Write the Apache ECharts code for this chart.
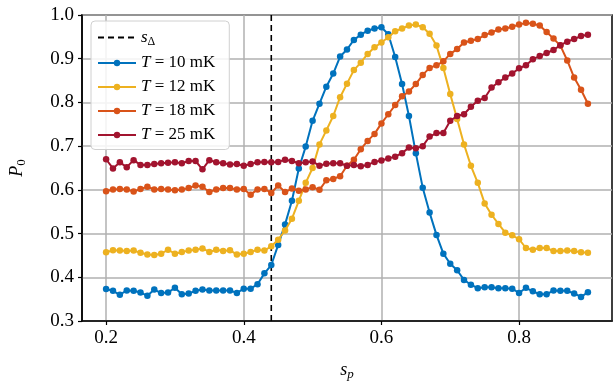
<!DOCTYPE html>
<html>
<head>
<meta charset="utf-8">
<script src="https://cdn.jsdelivr.net/npm/echarts@6/dist/echarts.min.js"></script>
<style>
  html, body { margin: 0; padding: 0; background: #fff; }
  #chart { width: 616px; height: 386px; }
</style>
</head>
<body>
<div id="chart"></div>
<script>
// s_p values (x)
var sp = [0.20, 0.21, 0.22, 0.23, 0.24, 0.25, 0.26, 0.27, 0.28, 0.29,
          0.30, 0.31, 0.32, 0.33, 0.34, 0.35, 0.36, 0.37, 0.38, 0.39,
          0.40, 0.41, 0.42, 0.43, 0.44, 0.45, 0.46, 0.47, 0.48, 0.49,
          0.50, 0.51, 0.52, 0.53, 0.54, 0.55, 0.56, 0.57, 0.58, 0.59,
          0.60, 0.61, 0.62, 0.63, 0.64, 0.65, 0.66, 0.67, 0.68, 0.69,
          0.70, 0.71, 0.72, 0.73, 0.74, 0.75, 0.76, 0.77, 0.78, 0.79,
          0.80, 0.81, 0.82, 0.83, 0.84, 0.85, 0.86, 0.87, 0.88, 0.89, 0.90];

var xTicks = [0.2, 0.4, 0.6, 0.8];

var sDelta = 0.44;

// P_0 for each temperature
var p10 = [0.373, 0.369, 0.360, 0.370, 0.369, 0.365, 0.358, 0.372, 0.364, 0.365,
           0.376, 0.361, 0.363, 0.369, 0.372, 0.370, 0.370, 0.370, 0.370, 0.364,
           0.374, 0.374, 0.384, 0.409, 0.428, 0.474, 0.521, 0.575, 0.649, 0.699,
           0.758, 0.797, 0.836, 0.866, 0.905, 0.921, 0.943, 0.955, 0.964, 0.969,
           0.972, 0.956, 0.904, 0.842, 0.769, 0.684, 0.605, 0.548, 0.497, 0.454,
           0.431, 0.416, 0.394, 0.383, 0.375, 0.377, 0.377, 0.375, 0.375, 0.374,
           0.364, 0.376, 0.368, 0.361, 0.361, 0.370, 0.369, 0.369, 0.363, 0.355, 0.366];

var p12 = [0.457, 0.462, 0.461, 0.460, 0.461, 0.456, 0.452, 0.451, 0.454, 0.463,
           0.454, 0.458, 0.461, 0.463, 0.466, 0.458, 0.463, 0.460, 0.462, 0.452,
           0.454, 0.458, 0.463, 0.461, 0.471, 0.486, 0.507, 0.534, 0.575, 0.616,
           0.650, 0.704, 0.736, 0.769, 0.812, 0.843, 0.874, 0.891, 0.911, 0.926,
           0.937, 0.949, 0.963, 0.969, 0.976, 0.978, 0.972, 0.957, 0.930, 0.879,
           0.819, 0.762, 0.704, 0.655, 0.616, 0.569, 0.543, 0.522, 0.502, 0.496,
           0.487, 0.467, 0.463, 0.467, 0.467, 0.460, 0.460, 0.461, 0.460, 0.457, 0.456];

var p18 = [0.597, 0.601, 0.602, 0.601, 0.596, 0.602, 0.607, 0.601, 0.602, 0.601,
           0.599, 0.601, 0.604, 0.610, 0.607, 0.595, 0.601, 0.604, 0.604, 0.601,
           0.602, 0.589, 0.601, 0.602, 0.593, 0.610, 0.595, 0.603, 0.598, 0.601,
           0.606, 0.600, 0.622, 0.625, 0.631, 0.655, 0.669, 0.693, 0.712, 0.728,
           0.752, 0.773, 0.794, 0.814, 0.825, 0.842, 0.863, 0.879, 0.885, 0.894,
           0.911, 0.922, 0.937, 0.941, 0.945, 0.954, 0.960, 0.967, 0.969, 0.973,
           0.978, 0.982, 0.980, 0.976, 0.961, 0.946, 0.930, 0.896, 0.857, 0.829, 0.797];

var p25 = [0.670, 0.649, 0.663, 0.652, 0.668, 0.657, 0.657, 0.659, 0.661, 0.662,
           0.663, 0.661, 0.666, 0.666, 0.647, 0.668, 0.663, 0.661, 0.658, 0.659,
           0.655, 0.659, 0.663, 0.664, 0.663, 0.664, 0.669, 0.666, 0.661, 0.663,
           0.665, 0.655, 0.660, 0.661, 0.661, 0.655, 0.657, 0.654, 0.657, 0.664,
           0.667, 0.672, 0.676, 0.684, 0.697, 0.695, 0.700, 0.722, 0.730, 0.730,
           0.758, 0.769, 0.773, 0.790, 0.804, 0.810, 0.834, 0.846, 0.857, 0.866,
           0.878, 0.885, 0.899, 0.906, 0.913, 0.920, 0.931, 0.939, 0.945, 0.952, 0.955];

var tempNames = ['T10', 'T12', 'T18', 'T25'];
var tempLabels = ['10', '12', '18', '25'];
var tempColors = ['#0072BD', '#EDB120', '#D95319', '#A2142F'];
var tempData = [p10, p12, p18, p25];

var serif = 'Liberation Serif';
var yLo = 0.3, yHi = 1.0;

function pairs(ys) {
    var out = [];
    for (var i = 0; i < sp.length; i++) out.push([sp[i], ys[i]]);
    return out;
}

var chart = echarts.init(document.getElementById('chart'));

// vertical dashed line at s_Delta
var series = [{
    name: 'sDelta',
    type: 'line',
    data: [[sDelta, yLo], [sDelta, yHi]],
    symbol: 'none',
    lineStyle: { color: '#000', type: [6, 4], width: 1.6 },
    itemStyle: { color: '#000' },
    emphasis: { disabled: true },
    z: 1
}];
for (var k = 0; k < tempData.length; k++) {
    series.push({
        name: tempNames[k],
        type: 'line',
        data: pairs(tempData[k]),
        symbol: 'circle',
        symbolSize: 6.5,
        showAllSymbol: true,
        lineStyle: { color: tempColors[k], width: 2 },
        itemStyle: { color: tempColors[k] },
        emphasis: { disabled: true },
        z: 2 + k
    });
}

var legendData = [{ name: 'sDelta', itemStyle: { opacity: 0 } }];
for (var j = 0; j < tempNames.length; j++) legendData.push({ name: tempNames[j] });

chart.setOption({
    animation: false,
    grid: {
        left: 82, right: 4, top: 15, bottom: 58,
        show: true, borderColor: '#000', borderWidth: 1.5
    },
    legend: {
        orient: 'vertical',
        left: 91, top: 21,
        padding: [8, 14, 6, 6],
        itemWidth: 38, itemHeight: 8,
        itemGap: 7,
        backgroundColor: 'rgba(255,255,255,0.85)',
        borderColor: '#d0d0d0', borderWidth: 1, borderRadius: 4,
        data: legendData,
        formatter: function (name) {
            if (name === 'sDelta') return '{it|s}{sub|Δ}';
            var idx = tempNames.indexOf(name);
            return '{it|T} = ' + tempLabels[idx] + ' mK';
        },
        textStyle: {
            fontFamily: serif, fontSize: 17, color: '#000',
            rich: {
                it: { fontFamily: serif, fontStyle: 'italic', fontSize: 17 },
                sub: { fontFamily: serif, fontSize: 12, verticalAlign: 'bottom', padding: [8, 0, 0, 0] }
            }
        }
    },
    xAxis: {
        type: 'value',
        min: 0.165, max: 0.935,
        name: '{it|s}{sub|p}',
        nameLocation: 'middle', nameGap: 39,
        nameTextStyle: {
            fontFamily: serif, fontSize: 18, color: '#000',
            rich: {
                it: { fontFamily: serif, fontStyle: 'italic', fontSize: 18 },
                sub: { fontFamily: serif, fontStyle: 'italic', fontSize: 13, padding: [8, 0, 0, 0] }
            }
        },
        axisLine: { lineStyle: { color: '#000', width: 1.5 } },
        axisTick: { customValues: xTicks, lineStyle: { color: '#000', width: 1.2 }, length: 4 },
        axisLabel: {
            customValues: xTicks,
            fontFamily: serif, fontSize: 19, color: '#000', margin: 8,
            formatter: function (v) { return v.toFixed(1); }
        },
        splitLine: { show: true, lineStyle: { color: '#b0b0b0', width: 1.5 } }
    },
    yAxis: {
        type: 'value',
        min: yLo, max: yHi, interval: 0.1,
        name: '{it|P}{sub|0}',
        nameLocation: 'middle', nameGap: 54,
        nameTextStyle: {
            fontFamily: serif, fontSize: 18, color: '#000',
            rich: {
                it: { fontFamily: serif, fontStyle: 'italic', fontSize: 18 },
                sub: { fontFamily: serif, fontSize: 13, padding: [8, 0, 0, 0] }
            }
        },
        axisLine: { lineStyle: { color: '#000', width: 1.5 } },
        axisTick: { lineStyle: { color: '#000', width: 1.2 }, length: 4 },
        axisLabel: {
            fontFamily: serif, fontSize: 19, color: '#000', margin: 8,
            formatter: function (v) { return v.toFixed(1); }
        },
        splitLine: { show: true, lineStyle: { color: '#b0b0b0', width: 1.5 } }
    },
    series: series
});
</script>
</body>
</html>
